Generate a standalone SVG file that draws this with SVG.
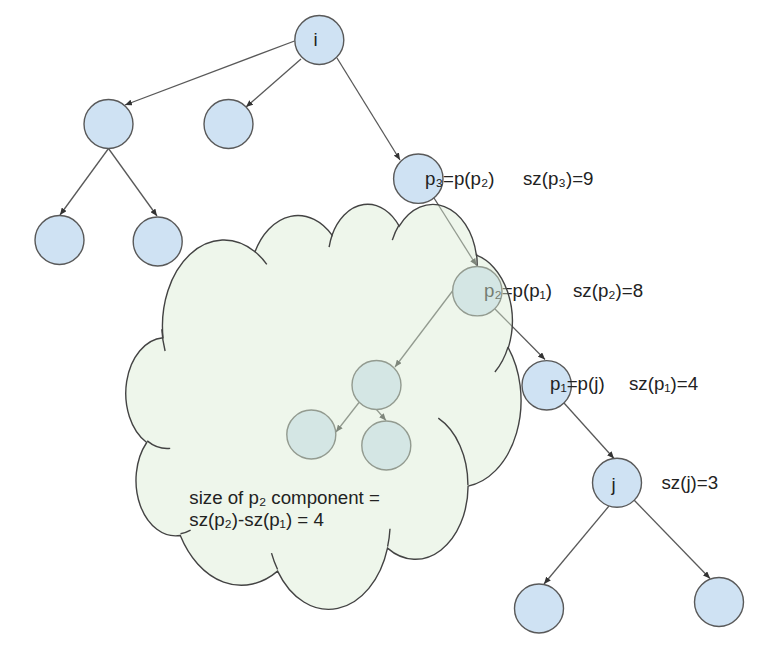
<svg xmlns="http://www.w3.org/2000/svg" width="768" height="653" viewBox="0 0 768 653">
<style>
.n{fill:#cfe2f3;stroke:#595959;stroke-width:1.4}
.e{stroke:#595959;stroke-width:1.3;fill:none;marker-end:url(#ah)}
.t{font-family:"Liberation Sans",Arial,"DejaVu Sans",sans-serif;font-size:18.7px;fill:#222}
.cl{fill:#d9ead3;fill-opacity:0.45;stroke:#434343;stroke-width:1.4}
.tl{fill:none;stroke:#434343;stroke-width:1.4}
</style>
<defs>
<marker id="ah" markerUnits="userSpaceOnUse" markerWidth="8" markerHeight="6" refX="7" refY="3" orient="auto">
<path d="M0,0 L7,3 L0,6 z" fill="#333"/>
</marker>
</defs>
<rect width="768" height="653" fill="#fff"/>
<g id="connectors">
<line class="e" x1="294.5" y1="41" x2="125" y2="105"/>
<line class="e" x1="301" y1="59" x2="246" y2="107"/>
<line class="e" x1="337" y1="58" x2="400" y2="160"/>
<line class="e" x1="108.5" y1="148.5" x2="60" y2="215"/>
<line class="e" x1="108.5" y1="148.5" x2="157" y2="216"/>
<line class="e" x1="434" y1="198" x2="476.5" y2="265.5"/>
<line class="e" x1="452.5" y1="291" x2="395" y2="367"/>
<line class="e" x1="495" y1="309" x2="545" y2="359.5"/>
<line class="e" x1="359" y1="402.5" x2="336" y2="432"/>
<line class="e" x1="376.5" y1="409.5" x2="386" y2="420.5"/>
<line class="e" x1="564" y1="403" x2="614" y2="458.5"/>
<line class="e" x1="609" y1="506" x2="544" y2="584"/>
<line class="e" x1="634" y1="500" x2="710" y2="578.5"/>
</g>
<g id="node-i"><circle class="n" cx="319.3" cy="40" r="24.5"/><text class="t" x="315.5" y="46" text-anchor="middle">i</text></g>
<g id="node-a"><circle class="n" cx="108.5" cy="124" r="24.5"/></g>
<g id="node-b"><circle class="n" cx="228.5" cy="124" r="24.5"/></g>
<g id="node-c"><circle class="n" cx="59.5" cy="240" r="24.5"/></g>
<g id="node-d"><circle class="n" cx="157.7" cy="241.5" r="24.5"/></g>
<g id="node-p3"><circle class="n" cx="418.3" cy="178.7" r="24.7"/></g>
<g id="node-p2"><circle class="n" cx="477.3" cy="291.2" r="24.7"/></g>
<g id="node-e"><circle class="n" cx="376.5" cy="385" r="24.5"/></g>
<g id="node-f"><circle class="n" cx="311.3" cy="434.5" r="24.5"/></g>
<g id="node-g"><circle class="n" cx="386.3" cy="445.5" r="24.5"/></g>
<g id="node-p1"><circle class="n" cx="546.7" cy="385.3" r="24.7"/></g>
<g id="node-j"><circle class="n" cx="617" cy="482.8" r="24.5"/><text class="t" x="613.5" y="491" text-anchor="middle">j</text></g>
<g id="node-h"><circle class="n" cx="539" cy="608.5" r="24.5"/></g>
<g id="node-k"><circle class="n" cx="719" cy="602" r="24.5"/></g>
<g id="labels">
<text class="t" x="425" y="185">p₃=p(p₂)</text>
<text class="t" x="523" y="185">sz(p₃)=9</text>
<text class="t" x="484" y="297">p₂=p(p₁)</text>
<text class="t" x="573" y="297">sz(p₂)=8</text>
<text class="t" x="550" y="389.5">p₁=p(j)</text>
<text class="t" x="629" y="389.5">sz(p₁)=4</text>
<text class="t" x="661.5" y="488.5">sz(j)=3</text>
</g>
<g id="cloud">
<path class="cl" d="M163.0,337.7 A61.5,86.16 0 0 1 255.0,251.8 A48.57,68.13 0 0 1 332.0,235.2 A39.75,55.73 0 0 1 399.2,226.2 A44.23,61.83 0 0 1 476.4,255.2 A48.57,68.18 0 0 1 508.3,347.9 A61.7,86.44 0 0 1 468.1,486.1 A52.68,73.75 0 0 1 387.5,548.1 A61.49,86.39 0 0 1 277.6,571.1 A70.3,98.84 0 0 1 180.3,535.5 A39.7,55.48 0 0 1 146.7,442.5 A39.57,55.73 0 0 1 163.0,337.7 Z"/>
<path class="tl" d="M170.2,448.4 A39.57,55.73 0 0 1 147.2,440.9 M190.6,530.2 A39.7,55.48 0 0 1 180.5,533.8 M277.6,569.5 A61.49,86.39 0 0 1 271.5,553.1 M390.0,528.8 A61.49,86.39 0 0 1 387.6,546.7 M438.3,418.2 A52.68,73.75 0 0 1 467.9,485.1 M508.1,346.9 A48.57,68.18 0 0 1 494.9,372.0 M476.5,253.9 A44.23,61.83 0 0 1 477.2,265.7 M392.3,240.1 A44.23,61.83 0 0 1 399.1,224.9 M329.1,247.2 A39.75,55.73 0 0 1 332.4,234.2 M255.0,251.7 A61.5,86.16 0 0 1 266.8,264.3 M165.1,351.0 A61.5,86.16 0 0 1 161.8,329.3"/>
<text class="t" x="189.3" y="503.5">size of p₂ component =</text>
<text class="t" x="189.3" y="525.5">sz(p₂)-sz(p₁) = 4</text>
</g>
</svg>
